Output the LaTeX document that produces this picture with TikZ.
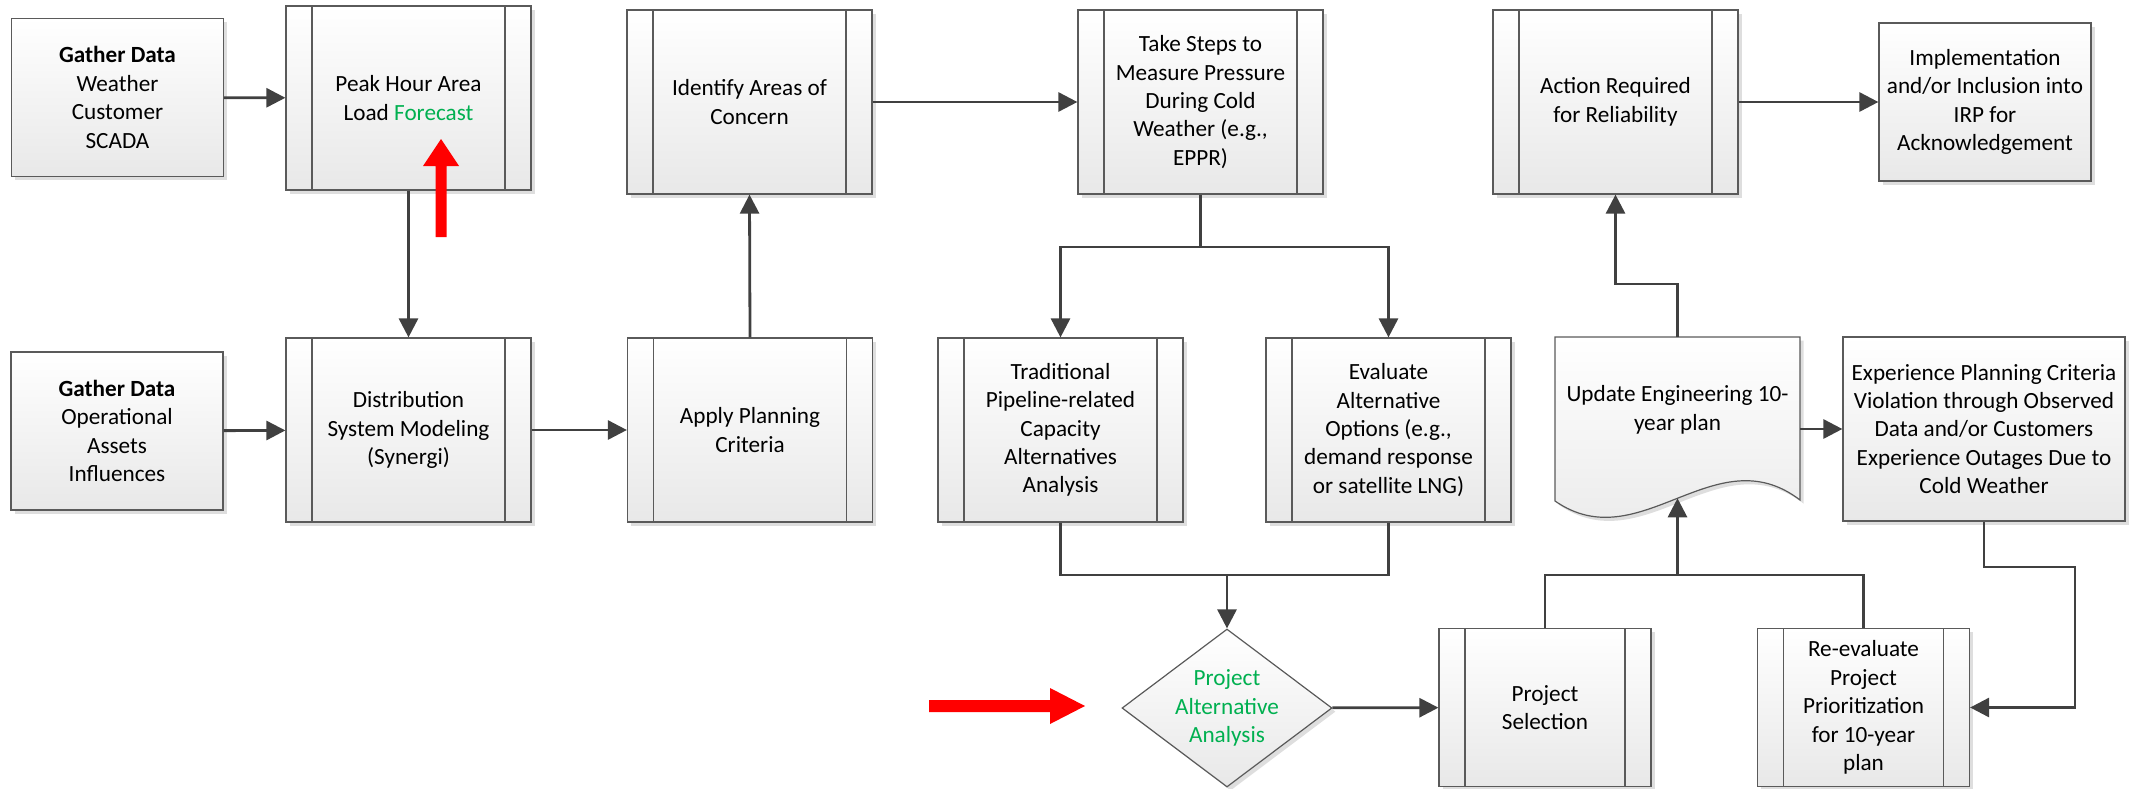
\documentclass[tikz,border=0pt]{standalone}
\usepackage{fontspec}
\setmainfont{Carlito}
\usepackage{xcolor}
\usepackage{tikz}
\usetikzlibrary{positioning,arrows.meta,shapes.geometric,shadows}
\definecolor{flowline}{HTML}{404040}
\definecolor{boxedge}{HTML}{5A5A5A}
\definecolor{fcgreen}{HTML}{00B050}
\definecolor{hilite}{HTML}{FF0000}
\tikzset{
    % common look: thin grey edge, white-to-grey shading, soft shadow
    base/.style={
        draw=boxedge, line width=0.6pt,
        top color=white, bottom color=black!9,
        drop shadow={shadow xshift=1.8pt, shadow yshift=-1.8pt, fill=black!13, opacity=1},
        align=center, inner sep=2pt,
        font=\fontsize{11.6pt}{14.2pt}\selectfont
    },
    % predefined process: box with a bar on each side
    subproc/.style={
        base,
        path picture={
            \draw[boxedge, line width=0.6pt]
                ([xshift=13pt]path picture bounding box.north west) -- ([xshift=13pt]path picture bounding box.south west)
                ([xshift=-13pt]path picture bounding box.north east) -- ([xshift=-13pt]path picture bounding box.south east);
        }
    },
    wide/.style={minimum width=122.5pt, minimum height=92pt},
    short/.style={minimum width=106pt, minimum height=79pt},
    decision/.style={
        base, shape=diamond, aspect=1.33, inner sep=0pt,
        minimum width=105pt, minimum height=79pt, text=fcgreen
    },
    % text of the document symbol, outline drawn separately
    docbox/.style={
        align=center, inner sep=2pt, minimum width=122.5pt, minimum height=73pt,
        font=\fontsize{11.6pt}{14.2pt}\selectfont
    },
    docshape/.style={
        draw=boxedge, line width=0.6pt,
        top color=white, bottom color=black!9,
        drop shadow={shadow xshift=1.8pt, shadow yshift=-1.8pt, fill=black!13, opacity=1}
    },
    link/.style={draw=flowline, line width=1.4pt},
    flow/.style={link, -{Triangle[length=9.5pt, width=9.5pt]}},
}

\begin{document}
\begin{tikzpicture}[x=0.5pt, y=-0.5pt]
    \useasboundingbox (0,0) rectangle (2133,788);

    % Row 1: data, forecast, concerns, actions
    \node[base, short] (g1) at (117.5,97.5) {\textbf{Gather Data}\\Weather\\Customer\\SCADA};
    \node[subproc, wide] (peak) at (408.5,98) {Peak Hour Area\\Load \textcolor{fcgreen}{Forecast}};
    \node[subproc, wide] (ident) at (749.5,102) {Identify Areas of\\Concern};
    \node[subproc, wide] (steps) at (1200.5,102) {Take Steps to\\Measure Pressure\\During Cold\\Weather (e.g.,\\EPPR)};
    \node[subproc, wide] (act) at (1615.5,102) {Action Required\\for Reliability};
    \node[base, short] (impl) at (1985,102) {Implementation\\and/or Inclusion into\\IRP for\\Acknowledgement};

    % Row 2: modeling, criteria, alternatives, plan
    \node[base, short] (g2) at (117,431) {\textbf{Gather Data}\\Operational\\Assets\\Influences};
    \node[subproc, wide] (dist) at (408.5,430) {Distribution\\System Modeling\\(Synergi)};
    \node[subproc, wide] (apply) at (750,430) {Apply Planning\\Criteria};
    \node[subproc, wide] (trad) at (1060.5,430) {Traditional\\Pipeline-related\\Capacity\\Alternatives\\Analysis};
    \node[subproc, wide] (evalopt) at (1388.5,430) {Evaluate\\Alternative\\Options (e.g.,\\demand response\\or satellite LNG)};
    \shade[docshape] (1555,337) -- (1800,337) -- (1800,500)
        .. controls (1715,435) and (1640,560) .. (1555,501) coordinate[pos=0.5] (updwave) -- cycle;
    \node[docbox] (upd) at (1677.5,410) {Update Engineering 10-\\year plan};
    \node[base, minimum width=141pt, minimum height=92pt] (exper) at (1984,429) {Experience Planning Criteria\\Violation through Observed\\Data and/or Customers\\Experience Outages Due to\\Cold Weather};

    % Row 3: analysis, selection, prioritization
    \node[decision] (paa) at (1227,708) {Project\\Alternative\\Analysis};
    \node[subproc, short] (sel) at (1545,707.5) {Project\\Selection};
    \node[subproc, short] (reeval) at (1863.5,707.5) {Re-evaluate\\Project\\Prioritization\\for 10-year\\plan};

    % bends of the connectors
    \coordinate (split) at (1200.5,247);
    \coordinate (merge) at (1227,575);
    \coordinate (merge2) at (1677.5,575);
    \coordinate (uptop) at (1677.5,284);
    \coordinate (loop) at (2075,567);

    \draw[flow] (g1) -- (peak);
    \draw[flow] (peak.south) -- (dist.north);
    \draw[flow] (g2) -- (dist);
    \draw[flow] (dist) -- (apply);
    \draw[flow] (apply.north) -- (ident.south);
    \draw[flow] (ident) -- (steps);
    \draw[link] (steps.south) -- (split);
    \draw[flow] (split) -| (trad.north);
    \draw[flow] (split) -| (evalopt.north);
    \draw[link] (trad.south) |- (merge);
    \draw[link] (evalopt.south) |- (merge);
    \draw[flow] (merge) -- (paa.north);
    \draw[flow] (paa) -- (sel);
    \draw[link] (sel.north) |- (merge2);
    \draw[link] (reeval.north) |- (merge2);
    \draw[flow] (merge2) -- (updwave);
    \draw[flow] (upd.north) -- (uptop) -| (act.south);
    \draw[flow] (act) -- (impl);
    \draw[flow] (upd.east |- exper.west) -- (exper.west);
    \draw[flow] (exper.south) |- (loop) |- (reeval.east);

    % red markers
    \coordinate (mark1) at (441,237);
    \coordinate (mark2) at (929,706);
    \fill[hilite] (mark1) ++(-5.5,0) -- ++(0,-71) -- ++(-12.5,0) -- ++(18,-27) -- ++(18,27) -- ++(-12.5,0) -- ++(0,71) -- cycle;
    \fill[hilite] (mark2) ++(0,-6) -- ++(121,0) -- ++(0,-12) -- ++(35,18) -- ++(-35,18) -- ++(0,-12) -- ++(-121,0) -- cycle;
\end{tikzpicture}
\end{document}
